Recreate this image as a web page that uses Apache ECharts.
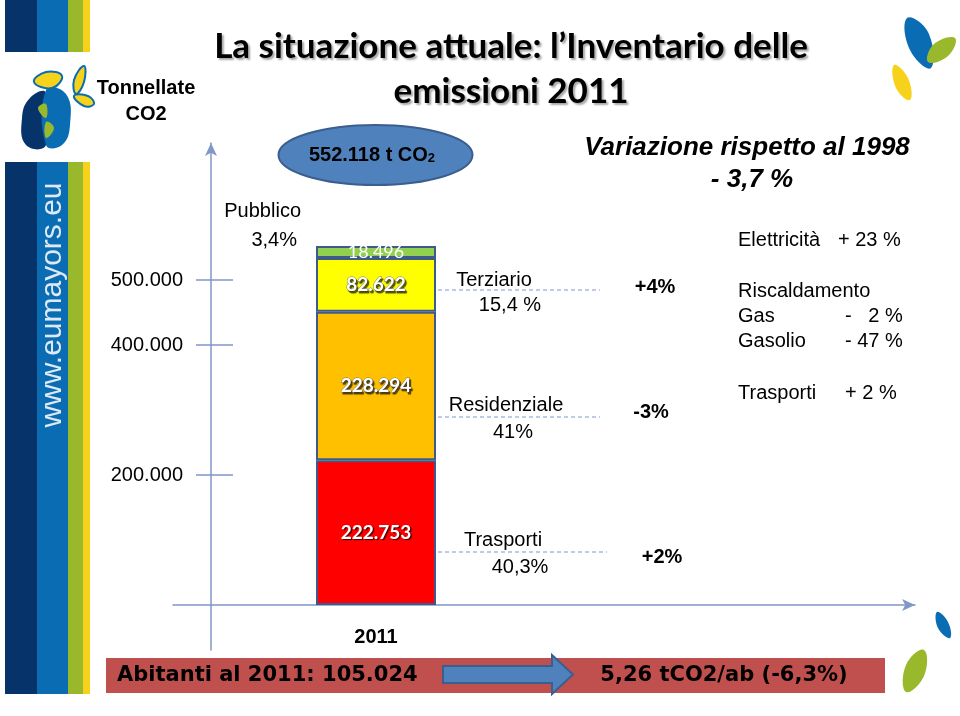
<!DOCTYPE html>
<html>
<head>
<meta charset="utf-8">
<script src="https://cdn.jsdelivr.net/npm/echarts@6/dist/echarts.min.js"></script>
<style>
html,body{margin:0;padding:0;background:#fff;}
#chart{width:960px;height:716px;}
</style>
</head>
<body>
<div id="chart"></div>
<script>
// ---- data ----
const categories = ['2011'];
const trasporti = [222753];
const residenziale = [228294];
const terziario = [82622];
const pubblico = [18496];
const yTickValues = [200000, 400000, 500000];
const yMax = 700000;

function fmt(v){ return String(v).replace(/\B(?=(\d{3})+(?!\d))/g, '.'); }

const AX = '#8097c9';
const SANS = '"Liberation Sans", Arial, sans-serif';
const BORDER = '#3d5a8a';

const chart = echarts.init(document.getElementById('chart'), null, {renderer:'canvas'});

function barSeries(name, data, color, labelStyle){
  return {
    name: name, type: 'bar', stack: 'tot', data: data,
    xAxisIndex: 0, yAxisIndex: 0, barWidth: 120,
    itemStyle: {color: color, borderColor: BORDER, borderWidth: 2},
    label: Object.assign({show: true, position: 'inside', formatter: p => fmt(p.value)}, labelStyle),
    emphasis: {disabled: true}
  };
}
const boldLbl = {color:'#fff', fontFamily:'Lato', fontWeight:'bold', fontSize:19,
  textBorderColor:'#777', textBorderWidth:1, textShadowColor:'rgba(0,0,0,0.6)', textShadowOffsetX:1.5, textShadowOffsetY:1.5, textShadowBlur:1};

function txt(x, y, text, font, align, extra){
  return {type:'text', silent:true, style:Object.assign({x:x, y:y, text:text, font:font, fill:'#000',
    textAlign: align || 'left', textVerticalAlign:'middle'}, extra||{})};
}
function dash(x1, x2, y){
  return {type:'line', silent:true, shape:{x1:x1, y1:y, x2:x2, y2:y}, style:{stroke:AX, lineWidth:1, lineDash:[4,3]}};
}
function leaf(points, color, stroke){
  return {type:'polygon', silent:true, shape:{points:points, smooth:0.45}, style:{fill:color, stroke:stroke||null, lineWidth:stroke?2:0}};
}

const NAVY='#06336a', BLUE='#0a6cb2', LIME='#9ab82c', YEL='#f6d31a';
const titleShadow = {textShadowColor:'rgba(0,0,0,0.35)', textShadowOffsetX:2, textShadowOffsetY:2, textShadowBlur:2};

const graphics = [
  // left decorative strips
  {type:'rect', silent:true, shape:{x:5,y:0,width:32,height:52}, style:{fill:NAVY}},
  {type:'rect', silent:true, shape:{x:37,y:0,width:31,height:52}, style:{fill:BLUE}},
  {type:'rect', silent:true, shape:{x:68,y:0,width:15,height:52}, style:{fill:LIME}},
  {type:'rect', silent:true, shape:{x:83,y:0,width:7,height:52}, style:{fill:YEL}},
  {type:'rect', silent:true, shape:{x:5,y:162,width:32,height:532}, style:{fill:NAVY}},
  {type:'rect', silent:true, shape:{x:37,y:162,width:31,height:532}, style:{fill:BLUE}},
  {type:'rect', silent:true, shape:{x:68,y:162,width:15,height:532}, style:{fill:LIME}},
  {type:'rect', silent:true, shape:{x:83,y:162,width:7,height:532}, style:{fill:YEL}},
  {type:'text', silent:true, x:53, y:305, rotation:Math.PI/2,
    style:{x:0, y:0, text:'www.eumayors.eu', font:'30px '+SANS, fill:'#dfe9f6', textAlign:'center', textVerticalAlign:'middle'}},
  // left logo (approximate)
  leaf([[46,93],[30,98],[22,118],[26,145],[46,145]], NAVY),
  leaf([[46,90],[66,94],[70,125],[62,145],[46,145]], BLUE),
  leaf([[38,108],[46,104],[46,118]], LIME),
  leaf([[46,122],[54,128],[46,138]], LIME),
  leaf([[34,82],[46,72],[62,76],[52,88]], YEL, BLUE),
  leaf([[76,94],[74,80],[84,66],[84,82]], YEL, BLUE),
  leaf([[74,96],[88,96],[94,104],[84,106]], YEL, BLUE),
  // right decorative leaves
  leaf([[907,18],[928,32],[931,68],[910,50]], BLUE),
  leaf([[928,62],[934,44],[955,38],[948,56]], LIME),
  leaf([[894,65],[908,78],[910,100],[896,88]], YEL),
  leaf([[937,612],[948,622],[950,638],[938,628]], BLUE),
  leaf([[906,692],[906,665],[924,650],[924,676]], LIME),
  // title
  txt(511, 47, 'La situazione attuale: l\u2019Inventario delle', 'bold 35px Lato', 'center', titleShadow),
  txt(511, 92, 'emissioni 2011', 'bold 35px Lato', 'center', titleShadow),
  // y axis title
  txt(146, 88, 'Tonnellate', 'bold 20px '+SANS, 'center'),
  txt(146, 114, 'CO2', 'bold 20px '+SANS, 'center'),
  // total ellipse
  {type:'ellipse', silent:true, shape:{cx:375.5, cy:155, rx:97, ry:30}, style:{fill:'#4f81bd', stroke:'#3a5f8f', lineWidth:2}},
  {type:'text', silent:true, style:{x:372, y:155, text:'{a|552.118 t CO}{b|2}', textAlign:'center', textVerticalAlign:'middle',
     rich:{a:{fontWeight:'bold', fontSize:20, fontFamily:SANS, color:'#111'},
           b:{fontWeight:'bold', fontSize:13, fontFamily:SANS, color:'#111', padding:[6,0,0,0]}}}},
  // sector annotations
  txt(301, 211, 'Pubblico', '20px '+SANS, 'right'),
  txt(297, 240, '3,4%', '20px '+SANS, 'right'),
  txt(494, 280, 'Terziario', '20px '+SANS, 'center'),
  txt(510, 305, '15,4 %', '20px '+SANS, 'center'),
  dash(438, 600, 290),
  txt(506, 405, 'Residenziale', '20px '+SANS, 'center'),
  txt(513, 432, '41%', '20px '+SANS, 'center'),
  dash(438, 600, 417),
  txt(503, 540, 'Trasporti', '20px '+SANS, 'center'),
  txt(520, 567, '40,3%', '20px '+SANS, 'center'),
  dash(438, 607, 552),
  txt(655, 287, '+4%', 'bold 20px '+SANS, 'center'),
  txt(651, 412, '-3%', 'bold 20px '+SANS, 'center'),
  txt(662, 557, '+2%', 'bold 20px '+SANS, 'center'),
  // variation text
  txt(747, 148, 'Variazione rispetto al 1998', 'italic bold 26px '+SANS, 'center'),
  txt(752, 180, '- 3,7 %', 'italic bold 26px '+SANS, 'center'),
  txt(738, 240, 'Elettricit\u00e0', '20px '+SANS, 'left'),
  txt(838, 240, '+ 23 %', '20px '+SANS, 'left'),
  txt(738, 291, 'Riscaldamento', '20px '+SANS, 'left'),
  txt(738, 316, 'Gas', '20px '+SANS, 'left'),
  txt(845, 316, '-   2 %', '20px '+SANS, 'left'),
  txt(738, 341, 'Gasolio', '20px '+SANS, 'left'),
  txt(845, 341, '- 47 %', '20px '+SANS, 'left'),
  txt(738, 393, 'Trasporti', '20px '+SANS, 'left'),
  txt(845, 393, '+ 2 %', '20px '+SANS, 'left'),
  // bottom banner
  {type:'rect', silent:true, shape:{x:106,y:658,width:779,height:35}, style:{fill:'#c0504d'}},
  {type:'polygon', silent:true, shape:{points:[[443,666],[552,666],[552,655],[573,674.5],[552,694],[552,683],[443,683]]},
    style:{fill:'#4f81bd', stroke:'#3a5f8f', lineWidth:2}},
  txt(117, 676, 'Abitanti al 2011: 105.024', 'bold 21px "DejaVu Sans", Verdana, sans-serif', 'left'),
  txt(724, 676, '5,26 tCO2/ab (-6,3%)', 'bold 21px "DejaVu Sans", Verdana, sans-serif', 'center')
];

const axisArrow = {show:true, symbol:['none','arrow'], symbolSize:[9,13], lineStyle:{color:AX, width:1.5}};

const option = {
  animation: false,
  backgroundColor: '#fff',
  grid: [
    {left:211, right:419, top:150, bottom:111},   // bar grid
    {left:173, right:45, top:150, bottom:111},    // horizontal axis line
    {left:211, right:419, top:143, bottom:66}     // vertical axis line
  ],
  xAxis: [
    {gridIndex:0, type:'category', data:categories, axisLine:{show:false}, axisTick:{show:false},
     axisLabel:{color:'#000', fontWeight:'bold', fontSize:20, fontFamily:SANS, margin:22}},
    {gridIndex:1, type:'value', min:0, max:1, position:'bottom', axisLine:Object.assign({onZero:false}, axisArrow),
     axisTick:{show:false}, axisLabel:{show:false}, splitLine:{show:false}},
    {gridIndex:2, type:'value', min:0, max:1, show:false}
  ],
  yAxis: [
    {gridIndex:0, type:'value', position:'left', offset:0, min:0, max:yMax, axisLine:{show:false},
     axisTick:{show:true, length:15, customValues:yTickValues, lineStyle:{color:AX, width:1.5}},
     axisLabel:{show:true, customValues:yTickValues, formatter:v => fmt(v), color:'#000', fontSize:20, fontFamily:SANS, margin:28},
     splitLine:{show:false}},
    {gridIndex:0, type:'value', position:'left', offset:0, min:0, max:yMax, axisLine:{show:false},
     axisTick:{show:true, inside:true, length:22, customValues:yTickValues, lineStyle:{color:AX, width:1.5}},
     axisLabel:{show:false}, splitLine:{show:false}},
    {gridIndex:1, type:'value', min:0, max:1, show:false},
    {gridIndex:2, type:'value', position:'left', min:0, max:1, axisLine:Object.assign({onZero:false}, axisArrow),
     axisTick:{show:false}, axisLabel:{show:false}, splitLine:{show:false}}
  ],
  series: [
    barSeries('Trasporti', trasporti, '#ff0000', {color:'#fff', fontFamily:'Lato', fontWeight:'bold', fontSize:19,
       textShadowColor:'rgba(0,0,0,0.7)', textShadowOffsetX:1.5, textShadowOffsetY:1.5, textShadowBlur:1}),
    barSeries('Residenziale', residenziale, '#ffc000', boldLbl),
    barSeries('Terziario', terziario, '#ffff00', boldLbl),
    barSeries('Pubblico', pubblico, '#92d050', {color:'#fff', fontFamily:'Lato', fontSize:18})
  ],
  graphic: graphics
};
chart.setOption(option);
</script>
</body>
</html>
